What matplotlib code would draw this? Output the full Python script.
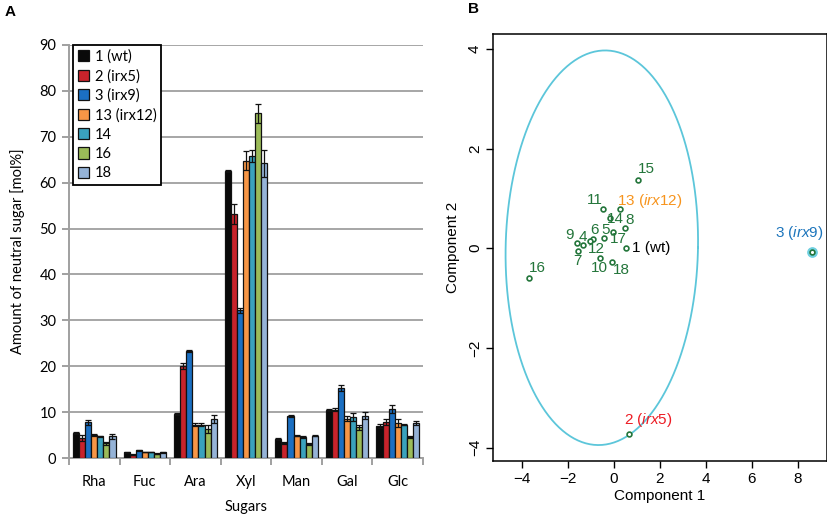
import numpy as np
import matplotlib
matplotlib.use("Agg")
from matplotlib import pyplot as plt

plt.rcParams['mathtext.fontset'] = 'custom'
plt.rcParams['mathtext.rm'] = 'Liberation Sans'
plt.rcParams['mathtext.it'] = 'Liberation Sans:italic'

# panel A data: neutral sugar composition
sugars = ["Rha", "Fuc", "Ara", "Xyl", "Man", "Gal", "Glc"]
lines = ["1 (wt)", "2 (irx5)", "3 (irx9)", "13 (irx12)", "14", "16", "18"]
values = [
    [5.4, 1.2, 9.5, 62.5, 4.2, 10.5, 7.0],
    [4.4, 0.7, 20.1, 53.1, 3.3, 10.5, 7.8],
    [7.8, 1.7, 23.3, 32.2, 9.2, 15.2, 10.7],
    [5.1, 1.3, 7.3, 64.8, 4.9, 8.6, 7.6],
    [4.7, 1.3, 7.3, 65.9, 4.6, 8.9, 7.3],
    [3.2, 0.9, 6.3, 75.1, 3.1, 6.7, 4.6],
    [4.7, 1.2, 8.5, 64.2, 4.9, 9.2, 7.6],
]
errors = [
    [0.2, 0.1, 0.2, 0.2, 0.2, 0.2, 0.4],
    [0.7, 0.1, 0.7, 2.2, 0.2, 0.3, 0.7],
    [0.5, 0.1, 0.3, 0.5, 0.2, 0.6, 0.8],
    [0.2, 0.1, 0.3, 2.1, 0.2, 0.6, 0.8],
    [0.2, 0.1, 0.3, 1.3, 0.2, 0.8, 0.2],
    [0.3, 0.1, 0.9, 2.0, 0.2, 0.6, 0.2],
    [0.5, 0.1, 0.8, 3.0, 0.2, 0.8, 0.4],
]
bar_colors = ["#0a0a0a", "#c8232b", "#1b6fc2", "#f79646", "#3aa2bd", "#9bbb59", "#95b3d7"]

# panel B data: PCA scores
pc_labels = ["1", "2", "3", "4", "5", "6", "7", "8", "9", "10",
             "11", "12", "13", "14", "15", "16", "17", "18"]
pc1 = [0.52, 0.65, 8.61, -1.34, -0.42, -0.93, -1.57, 0.46, -1.63, -0.62,
       -0.48, -1.05, 0.25, -0.17, 1.06, -3.69, -0.04, -0.09]
pc2 = [0.00, -3.73, -0.08, 0.07, 0.21, 0.18, -0.06, 0.41, 0.11, -0.20,
       0.79, 0.15, 0.79, 0.60, 1.37, -0.59, 0.33, -0.27]

fig = plt.figure(figsize=(8.28, 5.24), dpi=100)

# ---------------- panel A ----------------
fontA = "Lato"
axA = fig.add_axes([69/828, 66/524, 354/828, 413/524])
x = np.arange(len(sugars))
w = 0.12
for i, (lab, v, e, c) in enumerate(zip(lines, values, errors, bar_colors)):
    axA.bar(x + (i - 3) * w, v, w, color=c, edgecolor="#111111", linewidth=0.9,
            label=lab, zorder=3)
    axA.errorbar(x + (i - 3) * w, v, yerr=e, fmt="none", ecolor="#111111",
                 elinewidth=0.9, capsize=2, capthick=0.9, zorder=4)

axA.set_xlim(-0.5, len(sugars) - 0.5)
axA.set_ylim(0, 90)
axA.set_yticks(np.arange(0, 91, 10))
axA.yaxis.grid(True, color="#a6a6a6", linewidth=1.4, zorder=0)
axA.set_axisbelow(True)
for s in ["top", "right"]:
    axA.spines[s].set_visible(False)
for s in ["left", "bottom"]:
    axA.spines[s].set_color("#a0a0a0")
    axA.spines[s].set_linewidth(1.4)
axA.set_xticks(x)
axA.set_xticklabels(sugars, fontfamily=fontA, fontsize=10.5)
axA.set_xticks(np.arange(-0.5, len(sugars)), minor=True)
axA.tick_params(axis="x", which="major", length=0, pad=12)
axA.tick_params(axis="x", which="minor", length=5, color="#a0a0a0", width=1.4)
axA.tick_params(axis="y", length=5, color="#a0a0a0", width=1.4, pad=4)
for t in axA.get_yticklabels():
    t.set_fontfamily(fontA)
    t.set_fontsize(10.5)
axA.set_ylabel("Amount of neutral sugar [mol%]", fontfamily=fontA, fontsize=10.5, labelpad=10)
axA.set_xlabel("Sugars", fontfamily=fontA, fontsize=10.5, labelpad=8)
leg = axA.legend(loc="upper left", bbox_to_anchor=(0.012, 1.0), borderaxespad=0,
                 prop={"family": fontA, "size": 10.5},
                 fancybox=False, edgecolor="black", framealpha=1, handlelength=0.8,
                 handleheight=0.8, handletextpad=0.4, labelspacing=0.36, borderpad=0.3)
leg.get_frame().set_linewidth(1.3)
fig.text(5/828, 1 - 12/524, "A", fontsize=11, fontweight="bold", fontfamily="Liberation Sans", va="center")

# ---------------- panel B ----------------
fontB = "Liberation Sans"
axB = fig.add_axes([493/828, 63/524, 334/828, 427/524])
green = "#23753a"

# confidence ellipse
cx, cy, a, b, sh = -0.53, 0.01, 4.19, 3.96, 0.145
t = np.linspace(0, 2 * np.pi, 300)
axB.plot(cx + a * np.cos(t) + sh * np.sin(t), cy + b * np.sin(t), color="#5cc6da", lw=1.3)

axB.scatter(pc1[2], pc2[2], s=45, color="#6fd0e0", zorder=2)
axB.scatter(pc1, pc2, s=12, facecolor="white", edgecolor=green, linewidth=1.2, zorder=3)

special = {"1": ("1 (wt)", "black"),
           "2": (r"2 ($\mathit{irx5}$)", "#ed1c24"),
           "3": (r"3 ($\mathit{irx9}$)", "#1c75bc"),
           "13": (r"13 ($\mathit{irx12}$)", "#f7941d")}
# label offsets in pixels (dx, dy) and alignment
offs = {"1": (6, 0, "left"), "2": (-5, 14, "left"), "3": (12, 19, "right"),
        "4": (0, 8, "center"), "5": (1, 8, "center"), "6": (2, 9, "center"),
        "7": (0, -10, "center"), "8": (5, 8, "center"), "9": (-3, 8, "right"),
        "10": (0, -10, "center"), "11": (0, 9, "right"), "12": (-2, -8, "left"),
        "13": (-3, 8, "left"), "14": (-3, -1, "left"), "15": (0, 11, "left"),
        "16": (0, 10, "left"), "17": (5, -7, "center"), "18": (1, -8, "left")}
for lab, px, py in zip(pc_labels, pc1, pc2):
    txt, col = special.get(lab, (lab, green))
    dx, dy, ha = offs[lab]
    axB.annotate(txt, (px, py), xytext=(dx, dy), textcoords="offset pixels",
                 ha=ha, va="center", color=col, fontsize=11, fontfamily=fontB)

axB.set_xlim(-5.27, 9.28)
axB.set_ylim(-4.27, 4.30)
axB.set_xticks([-4, -2, 0, 2, 4, 6, 8])
axB.set_yticks([-4, -2, 0, 2, 4])
axB.set_xticklabels(["\u22124", "\u22122", "0", "2", "4", "6", "8"])
axB.set_yticklabels(["\u22124", "\u22122", "0", "2", "4"], rotation=90, va="center")
axB.tick_params(length=5, width=1, labelsize=11, pad=3)
for t_ in axB.get_xticklabels() + axB.get_yticklabels():
    t_.set_fontfamily(fontB)
for s in axB.spines.values():
    s.set_linewidth(1.1)
axB.set_xlabel("Component 1", fontfamily=fontB, fontsize=11, labelpad=2)
axB.set_ylabel("Component 2", fontfamily=fontB, fontsize=11, labelpad=6)
fig.text(468/828, 1 - 9/524, "B", fontsize=11, fontweight="bold", fontfamily="Liberation Sans", va="center")

fig.savefig("out.png", dpi=100)
